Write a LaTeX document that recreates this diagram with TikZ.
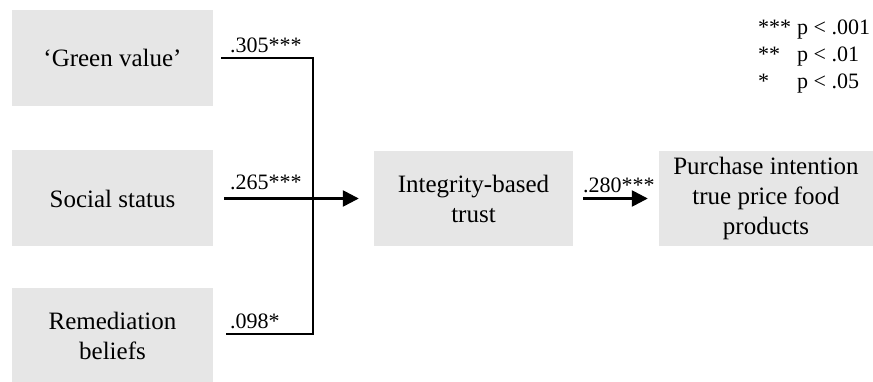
\documentclass[tikz,border=0pt]{standalone}
\usepackage{fontspec}
\setmainfont{Liberation Serif}
\usetikzlibrary{arrows.meta}
\definecolor{boxgray}{HTML}{E6E6E6}
\begin{document}
\begin{tikzpicture}[x=1pt,y=-1pt,
  box/.style={fill=boxgray, draw=none, align=center, font=\fontsize{25}{30}\selectfont, inner sep=0pt},
  conn/.style={line width=2.5pt},
  arr/.style={conn, -{Triangle[length=16pt,width=16pt]}},
  lbl/.style={font=\fontsize{22}{26}\selectfont, anchor=base west, inner sep=0pt},
]
\useasboundingbox (0,0) rectangle (873,382);
\node[box, minimum width=201pt, minimum height=96pt] (gv) at (112.5,58) {‘Green value’};
\node[box, minimum width=201pt, minimum height=96pt] (ss) at (112.5,198.5) {Social status};
\node[box, minimum width=201pt, minimum height=96pt] (rb) at (112.5,335.5) {Remediation\\beliefs};
\node[box, minimum width=199pt, minimum height=95pt] (it) at (473.5,198.5) {Integrity-based\\trust};
\node[box, minimum width=214pt, minimum height=95pt] (pi) at (766,198.5) {Purchase intention\\true price food\\products};

\coordinate (jt) at (313,58);
\coordinate (jb) at (313,334);
\draw[conn] ([xshift=8pt]gv.east) -- (jt) -- (jb) -- ([xshift=13pt]jb -| rb.east);
\draw[arr] ([xshift=11pt]ss.east) -- ([xshift=-15pt]it.west);
\draw[arr] ([xshift=10pt]it.east) -- ([xshift=-11pt]pi.west);

\node[lbl] (l1) at (230,53) {.305***};
\node[lbl] (l2) at (230,190) {.265***};
\node[lbl] (l3) at (230,328) {.098*};
\node[lbl] (l4) at (583,193) {.280***};

\node[lbl] (s1) at (758,35) {***};
\node[lbl] (s2) at (758,62) {**};
\node[lbl] (s3) at (758,89) {*};
\node[lbl] (p1) at (797,35) {p < .001};
\node[lbl] (p2) at (797,62) {p < .01};
\node[lbl] (p3) at (797,89) {p < .05};
\end{tikzpicture}
\end{document}
